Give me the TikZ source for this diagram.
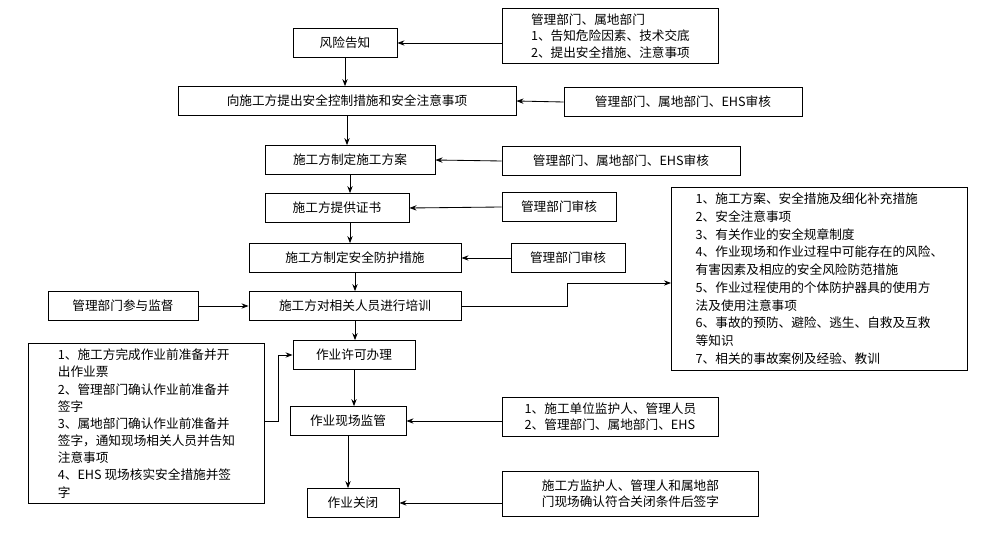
\documentclass[tikz,border=0pt]{standalone}
\usepackage{fontspec}
\newfontfamily\cjk{Noto Sans CJK SC}
\usetikzlibrary{arrows.meta}
\begin{document}
\begin{tikzpicture}[x=0.025cm,y=-0.025cm,
  every node/.style={draw,rectangle,inner sep=2,font=\cjk\fontsize{9}{11.5}\selectfont},
  box/.style={minimum height=0.72cm},
  note/.style={align=left,anchor=north west,minimum width=#1,inner sep=4},
  arr/.style={-{Stealth[length=5pt]}},
  line width=0.6pt]
\useasboundingbox (0,0) rectangle (1001,550);
% main column
\node[box,minimum width=2.6cm] (fx) at (345,43) {风险告知};
\node[box,minimum width=8.45cm] (tc) at (347,101) {向施工方提出安全控制措施和安全注意事项};
\node[box,minimum width=4.25cm] (fa) at (350,160) {施工方制定施工方案};
\node[box,minimum width=3.6cm] (zs) at (337,208) {施工方提供证书};
\node[box,minimum width=5.3cm] (fh) at (355,258) {施工方制定安全防护措施};
\node[box,minimum width=5.3cm] (px) at (355,306) {施工方对相关人员进行培训};
\node[box,minimum width=3.05cm] (xk) at (354,355) {作业许可办理};
\node[box,minimum width=2.9cm] (jg) at (348,421) {作业现场监管};
\node[box,minimum width=2.3cm] (gb) at (353,503) {作业关闭};
% side notes
\node[note=5.4cm] (n1) at (502,8) {管理部门、属地部门\\1、告知危险因素、技术交底\\2、提出安全措施、注意事项};
\node[box,minimum width=5.95cm] (n2) at (683,102) {管理部门、属地部门、EHS审核};
\node[box,minimum width=5.95cm] (n3) at (621,161) {管理部门、属地部门、EHS审核};
\node[box,minimum width=2.85cm] (n4) at (559,207) {管理部门审核};
\node[box,minimum width=2.85cm] (n5) at (568,258) {管理部门审核};
\node[box,minimum width=3.75cm] (n6) at (123,306) {管理部门参与监督};
\node[note=7.4cm,inner sep=4,font=\cjk\fontsize{9}{12.6}\selectfont] (n7) at (671,187) {1、施工方案、安全措施及细化补充措施\\2、安全注意事项\\3、有关作业的安全规章制度\\4、作业现场和作业过程中可能存在的风险、\\有害因素及相应的安全风险防范措施\\5、作业过程使用的个体防护器具的使用方\\法及使用注意事项\\6、事故的预防、避险、逃生、自救及互救\\等知识\\7、相关的事故案例及经验、教训};
\node[note=5.9cm,inner sep=4,font=\cjk\fontsize{9}{12.2}\selectfont] (n8) at (28,343) {1、施工方完成作业前准备并开\\出作业票\\2、管理部门确认作业前准备并\\签字\\3、属地部门确认作业前准备并\\签字，通知现场相关人员并告知\\注意事项\\4、EHS 现场核实安全措施并签\\字};
\node[note=5.4cm] (n9) at (502,397) {1、施工单位监护人、管理人员\\2、管理部门、属地部门、EHS};
\node[note=6.4cm,inner sep=6] (n10) at (502,471) {施工方监护人、管理人和属地部\\门现场确认符合关闭条件后签字};
% main arrows
\draw[arr] (fx.south) -- (fx.south |- tc.north);
\draw[arr] (tc.south) -- (tc.south |- fa.north);
\draw[arr] (fa.south) -- (fa.south |- zs.north);
\draw[arr] (fa.south |- zs.south) -- (fa.south |- fh.north);
\draw[arr] (fh.south) -- (fh.south |- px.north);
\draw[arr] (px.south) -- (px.south |- xk.north);
\draw[arr] (xk.south) -- (xk.south |- jg.north);
\draw[arr] (jg.south) -- (jg.south |- gb.north);
% side arrows
\draw[arr] (n1.west |- fx) -- (fx.east);
\draw[arr] (n2.west) -- (tc.east);
\draw[arr] (n3.west) -- (fa.east);
\draw[arr] (n4.west) -- (zs.east);
\draw[arr] (n5.west) -- (fh.east);
\draw[arr] (n6.east) -- (px.west);
\draw[arr] (px.east) -- (567,306) -- (567,283) -- (n7.west |- 0,283);
\draw[arr] (n8.east |- 0,421) -- (278,421) -- (278,355) -- (xk.west);
\draw[arr] (n9.west |- jg) -- (jg.east);
\draw[arr] (n10.west |- gb) -- (gb.east);
\end{tikzpicture}
\end{document}
